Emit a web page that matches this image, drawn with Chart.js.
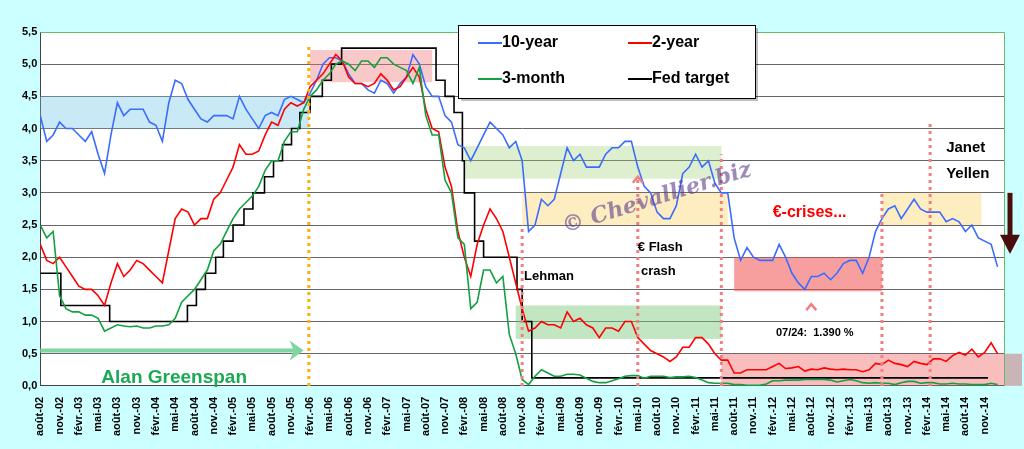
<!DOCTYPE html>
<html>
<head>
<meta charset="utf-8">
<script src="https://cdn.jsdelivr.net/npm/chart.js@4"></script>
<style>
  html, body { margin: 0; padding: 0; background: #ccffff; }
  #wrap { width: 1024px; height: 449px; position: relative; }
</style>
</head>
<body>
<div id="wrap"><canvas id="chart" width="1024" height="449"></canvas></div>
<script>
// month index 0 = août 2002, one value per month up to janv. 2015
const tenYear = [
  4.2, 3.8, 3.9, 4.1, 4.0,
  4.0, 3.9, 3.8, 3.95, 3.6, 3.3, 3.9, 4.4, 4.2, 4.3, 4.3, 4.3,
  4.1, 4.05, 3.8, 4.4, 4.75, 4.7, 4.45, 4.3, 4.15, 4.1, 4.2, 4.2,
  4.2, 4.15, 4.5, 4.3, 4.15, 4.0, 4.2, 4.25, 4.2, 4.45, 4.5, 4.45,
  4.4, 4.55, 4.75, 5.0, 5.1, 5.1, 5.05, 4.85, 4.7, 4.7, 4.6, 4.55,
  4.75, 4.7, 4.55, 4.7, 4.8, 5.15, 5.0, 4.65, 4.5, 4.5, 4.2, 4.1,
  3.75, 3.7, 3.5, 3.7, 3.9, 4.1, 4.0, 3.9, 3.7, 3.8, 3.5, 2.4,
  2.5, 2.9, 2.8, 2.9, 3.3, 3.7, 3.5, 3.6, 3.4, 3.4, 3.4, 3.6,
  3.7, 3.7, 3.8, 3.8, 3.4, 3.1, 3.0, 2.7, 2.6, 2.6, 2.8, 3.3,
  3.4, 3.6, 3.4, 3.5, 3.15, 3.0, 3.0, 2.3, 1.95, 2.15, 2.0, 1.95,
  1.95, 1.95, 2.2, 2.0, 1.75, 1.6, 1.5, 1.7, 1.7, 1.75, 1.65, 1.75,
  1.9, 1.95, 1.95, 1.75, 2.0, 2.4, 2.6, 2.75, 2.8, 2.6, 2.75, 2.9,
  2.75, 2.7, 2.7, 2.7, 2.55, 2.6, 2.55, 2.4, 2.5, 2.3, 2.25, 2.2,
  1.85
];
const twoYear = [
  2.2, 1.95, 1.9, 2.0, 1.85,
  1.7, 1.55, 1.5, 1.5, 1.4, 1.25, 1.6, 1.9, 1.7, 1.8, 1.95, 1.9,
  1.8, 1.7, 1.6, 2.1, 2.6, 2.75, 2.7, 2.5, 2.6, 2.6, 2.9, 3.0,
  3.2, 3.4, 3.75, 3.6, 3.6, 3.65, 3.9, 4.1, 4.05, 4.3, 4.4, 4.35,
  4.4, 4.65, 4.75, 4.85, 5.0, 5.15, 5.05, 4.8, 4.7, 4.7, 4.65, 4.7,
  4.85, 4.75, 4.6, 4.65, 4.8, 4.95, 4.8, 4.3, 4.0, 3.95, 3.4, 3.1,
  2.4, 2.0, 1.7, 2.2, 2.5, 2.75, 2.6, 2.4, 2.0, 1.6, 1.2, 0.85,
  0.9, 1.0, 0.95, 0.95, 0.9, 1.15, 1.0, 1.05, 0.95, 0.9, 0.75, 0.9,
  0.9, 0.85, 1.0, 1.0, 0.75, 0.65, 0.55, 0.5, 0.45, 0.38, 0.45, 0.6,
  0.6, 0.75, 0.75, 0.65, 0.5, 0.4, 0.4, 0.2, 0.2, 0.25, 0.25, 0.25,
  0.25, 0.3, 0.35, 0.27, 0.28, 0.3, 0.23, 0.26, 0.25, 0.28, 0.26, 0.25,
  0.26, 0.25, 0.25, 0.22, 0.25, 0.35, 0.33, 0.4, 0.35, 0.33, 0.3, 0.38,
  0.35, 0.33, 0.42, 0.42, 0.38, 0.47, 0.52, 0.48, 0.57, 0.45, 0.52, 0.67,
  0.5
];
const threeMonth = [
  2.5, 2.3, 2.4, 1.4, 1.2,
  1.15, 1.15, 1.1, 1.1, 1.05, 0.85, 0.9, 0.95, 0.93, 0.92, 0.93, 0.9,
  0.9, 0.93, 0.93, 0.95, 1.05, 1.3, 1.4, 1.5, 1.65, 1.8, 2.1, 2.2,
  2.4, 2.6, 2.75, 2.85, 2.95, 3.1, 3.35, 3.5, 3.5, 3.8, 3.95, 3.95,
  4.3, 4.5, 4.6, 4.75, 4.85, 5.0, 5.05, 5.0, 4.9, 5.05, 5.05, 4.95,
  5.1, 5.1, 5.0, 4.95, 4.9, 4.7, 4.95, 4.2, 3.9, 3.9, 3.2, 3.0,
  2.3, 2.2, 1.2, 1.3, 1.8, 1.8, 1.6, 1.7, 0.8, 0.5, 0.1, 0.02,
  0.15, 0.25, 0.2, 0.15, 0.15, 0.18, 0.18, 0.17, 0.12, 0.07, 0.05, 0.05,
  0.08, 0.11, 0.15, 0.16, 0.16, 0.12, 0.15, 0.15, 0.15, 0.13, 0.14, 0.14,
  0.15, 0.13, 0.09, 0.05, 0.04, 0.04, 0.04, 0.02, 0.02, 0.01, 0.01, 0.01,
  0.03, 0.08, 0.08, 0.09, 0.09, 0.09, 0.1, 0.1, 0.1, 0.1, 0.09, 0.06,
  0.08, 0.1, 0.08, 0.05, 0.04, 0.05, 0.04, 0.04, 0.02, 0.05, 0.07, 0.07,
  0.04, 0.05, 0.05, 0.03, 0.03, 0.04, 0.03, 0.03, 0.02, 0.02, 0.02, 0.04,
  0.02
];
// Fed target: month index of each change and new rate
const fedMonths = [0, 3.2, 10.8, 22.9, 24.3, 25.7, 27.3, 28.5, 30, 31.7, 33.1, 34.9, 36.3, 37.7, 39.1, 40.4,
  42, 43.9, 45.3, 46.9, 61.6, 63, 64.4, 65.7, 66, 67.6, 69, 74.2, 75, 76.5, 147.5];
const fedRates = [1.75, 1.25, 1.0, 1.25, 1.5, 1.75, 2.0, 2.25, 2.5, 2.75, 3.0, 3.25, 3.5, 3.75, 4.0, 4.25,
  4.5, 4.75, 5.0, 5.25, 4.75, 4.5, 4.25, 3.5, 3.0, 2.25, 2.0, 1.5, 1.0, 0.125, 0.125];

const monthNames = ['août', 'nov.', 'févr.', 'mai'];
const tickStep = 3;
const lastMonth = 150;

// shaded zones: [fromMonth, toMonth, low, high, colour]
const zones = [
  [0, 41.8, 4.0, 4.5, 'rgba(135,206,235,0.45)'],
  [42, 61, 4.72, 5.22, 'rgba(240,120,120,0.4)'],
  [66, 106, 3.22, 3.73, 'rgba(160,210,120,0.35)'],
  [75, 107, 2.5, 3.0, 'rgba(255,215,120,0.45)'],
  [131, 146.5, 2.5, 3.0, 'rgba(255,215,120,0.45)'],
  [108, 131, 1.47, 2.0, 'rgba(240,80,80,0.55)'],
  [74, 106, 0.73, 1.25, 'rgba(120,200,120,0.45)'],
  [106, 150, 0, 0.5, 'rgba(240,110,110,0.45)']
];
// dotted markers: [month, top value, colour]
const markers = [
  [41.8, 5.3, '#ffb000'],
  [75, 2.5, '#f08080'],
  [93, 3.2, '#f08080'],
  [106, 3.6, '#f08080'],
  [131, 3.0, '#f08080'],
  [138.5, 4.1, '#f08080']
];

function toPoints(arr) {
  return arr.map((v, i) => ({ x: i, y: v }));
}

function monthLabel(m) {
  const k = Math.round(m / tickStep) % 4;
  const year = 2002 + Math.floor((m + 7) / 12);
  return monthNames[k] + '-' + String(year % 100).padStart(2, '0');
}

const overlay = {
  id: 'overlay',
  beforeDatasetsDraw(chart) {
    const { ctx, chartArea: a, scales: { x, y } } = chart;
    ctx.save();
    zones.forEach(z => {
      ctx.fillStyle = z[4];
      const x0 = x.getPixelForValue(z[0]), x1 = x.getPixelForValue(z[1]);
      const y0 = y.getPixelForValue(z[3]), y1 = y.getPixelForValue(z[2]);
      ctx.fillRect(x0, y0, x1 - x0, y1 - y0);
    });
    // shade spilling out on the right
    ctx.fillStyle = 'rgba(200,150,150,0.7)';
    ctx.fillRect(a.right, y.getPixelForValue(0.5), 18, y.getPixelForValue(0) - y.getPixelForValue(0.5));
    ctx.restore();
  },
  beforeDraw(chart) {
    const { ctx, chartArea: a } = chart;
    ctx.save();
    ctx.fillStyle = '#ffffff';
    ctx.fillRect(a.left, a.top, a.right - a.left, a.bottom - a.top);
    ctx.restore();
  },
  afterDraw(chart) {
    const { ctx, chartArea: a, scales: { x, y } } = chart;
    ctx.save();
    ctx.strokeStyle = '#66bb66';
    ctx.lineWidth = 1;
    ctx.beginPath();
    ctx.moveTo(a.left, a.top + 0.5); ctx.lineTo(a.right + 0.5, a.top + 0.5); ctx.lineTo(a.right + 0.5, a.bottom);
    ctx.stroke();

    markers.forEach(m => {
      ctx.strokeStyle = m[2];
      ctx.lineWidth = 3;
      ctx.setLineDash([3, 4]);
      ctx.beginPath();
      ctx.moveTo(x.getPixelForValue(m[0]), y.getPixelForValue(0));
      ctx.lineTo(x.getPixelForValue(m[0]), y.getPixelForValue(m[1]));
      ctx.stroke();
    });
    ctx.setLineDash([]);

    // small pink carets
    ctx.strokeStyle = '#f08080';
    ctx.lineWidth = 2.5;
    [[93, 3.25], [120, 1.27]].forEach(c => {
      const cx = x.getPixelForValue(c[0]), cy = y.getPixelForValue(c[1]);
      ctx.beginPath();
      ctx.moveTo(cx - 5, cy + 6); ctx.lineTo(cx, cy); ctx.lineTo(cx + 5, cy + 6);
      ctx.stroke();
    });

    // Greenspan arrow
    const ay = y.getPixelForValue(0.55);
    ctx.strokeStyle = '#7fd6a0';
    ctx.fillStyle = '#7fd6a0';
    ctx.lineWidth = 4;
    ctx.beginPath();
    ctx.moveTo(x.getPixelForValue(0), ay); ctx.lineTo(x.getPixelForValue(39.5), ay);
    ctx.stroke();
    const ax = x.getPixelForValue(41);
    ctx.beginPath();
    ctx.moveTo(ax, ay); ctx.lineTo(ax - 14, ay - 10); ctx.lineTo(ax - 10, ay); ctx.lineTo(ax - 14, ay + 10);
    ctx.closePath(); ctx.fill();

    // Yellen arrow
    const yx = x.getPixelForValue(lastMonth) + 6;
    ctx.strokeStyle = '#4a0c0c';
    ctx.fillStyle = '#4a0c0c';
    ctx.lineWidth = 5;
    ctx.beginPath();
    ctx.moveTo(yx, y.getPixelForValue(3.0)); ctx.lineTo(yx, y.getPixelForValue(2.3));
    ctx.stroke();
    ctx.beginPath();
    ctx.moveTo(yx - 10, y.getPixelForValue(2.35)); ctx.lineTo(yx + 10, y.getPixelForValue(2.35));
    ctx.lineTo(yx, y.getPixelForValue(2.05)); ctx.closePath(); ctx.fill();

    // texts
    const txt = (s, m, v, font, col) => {
      ctx.font = font; ctx.fillStyle = col;
      ctx.fillText(s, x.getPixelForValue(m), y.getPixelForValue(v));
    };
    ctx.textBaseline = 'middle';
    txt('Alan Greenspan', 9.5, 0.13, 'bold 19px Arial', '#1aaa55');
    txt('Lehman', 75.3, 1.7, 'bold 13px Arial', '#000');
    txt('€ Flash', 93, 2.15, 'bold 13px Arial', '#000');
    txt('crash', 93.5, 1.78, 'bold 13px Arial', '#000');
    txt('€-crises...', 114, 2.7, 'bold 16px Arial', '#ff0000');
    txt('07/24:  1.390 %', 114.5, 0.83, 'bold 11px Arial', '#000');
    txt('Janet', 141, 3.7, 'bold 15px Arial', '#000');
    txt('Yellen', 141, 3.3, 'bold 15px Arial', '#000');

    // watermark
    ctx.save();
    ctx.translate(x.getPixelForValue(94), y.getPixelForValue(2.85));
    ctx.rotate(-0.3);
    ctx.font = 'italic bold 22px "DejaVu Serif"';
    ctx.fillStyle = 'rgba(90,60,140,0.6)';
    ctx.fillText('© Chevallier.biz', -85, 0);
    ctx.restore();

    // legend box
    const lx = 458, ly = 25, lw = 297, lh = 73;
    ctx.fillStyle = 'rgba(0,0,0,0.25)';
    ctx.fillRect(lx + 3, ly + 3, lw, lh);
    ctx.fillStyle = '#fff';
    ctx.fillRect(lx, ly, lw, lh);
    ctx.strokeStyle = '#000'; ctx.lineWidth = 1;
    ctx.strokeRect(lx + 0.5, ly + 0.5, lw, lh);
    const items = [['10-year', '#3b6cff', 0, 0], ['2-year', '#ff0000', 1, 0], ['3-month', '#12a040', 0, 1], ['Fed target', '#000', 1, 1]];
    ctx.font = 'bold 16px Arial';
    items.forEach(it => {
      const ix = lx + 20 + it[2] * 150, iy = ly + 18 + it[3] * 36;
      ctx.strokeStyle = it[1]; ctx.lineWidth = 2;
      ctx.beginPath(); ctx.moveTo(ix, iy); ctx.lineTo(ix + 24, iy); ctx.stroke();
      ctx.fillStyle = '#000';
      ctx.fillText(it[0], ix + 24, iy);
    });
    ctx.restore();
  }
};

new Chart(document.getElementById('chart'), {
  type: 'line',
  data: {
    datasets: [
      { label: '3-month', data: toPoints(threeMonth), borderColor: '#12a040', borderWidth: 1.6 },
      { label: '2-year', data: toPoints(twoYear), borderColor: '#ff0000', borderWidth: 1.6 },
      { label: '10-year', data: toPoints(tenYear), borderColor: '#3b6cff', borderWidth: 1.6 },
      { label: 'Fed target', data: fedMonths.map((m, i) => ({ x: m, y: fedRates[i] })), borderColor: '#000', borderWidth: 1.6, stepped: true }
    ]
  },
  options: {
    responsive: false,
    animation: false,
    layout: { padding: { top: 32, right: 20, left: 19, bottom: 10 } },
    elements: { point: { radius: 0 }, line: { tension: 0 } },
    plugins: { legend: { display: false }, tooltip: { enabled: false } },
    scales: {
      x: {
        type: 'linear', min: 0, max: lastMonth,
        afterBuildTicks(axis) {
          const t = [];
          for (let m = 0; m <= 147; m += tickStep) t.push({ value: m });
          axis.ticks = t;
        },
        ticks: {
          autoSkip: false, minRotation: 90, maxRotation: 90,
          color: '#000', font: { family: 'Arial', size: 11, weight: 'bold' },
          callback: v => monthLabel(v)
        },
        grid: { display: false, drawTicks: true },
        border: { color: '#444' }
      },
      y: {
        min: 0, max: 5.5,
        ticks: {
          stepSize: 0.5, color: '#000', font: { family: 'Arial', size: 11, weight: 'bold' },
          callback: v => v.toFixed(1).replace('.', ',')
        },
        grid: { color: '#666', drawTicks: false },
        border: { color: '#444' }
      }
    }
  },
  plugins: [overlay]
});
</script>
</body>
</html>
